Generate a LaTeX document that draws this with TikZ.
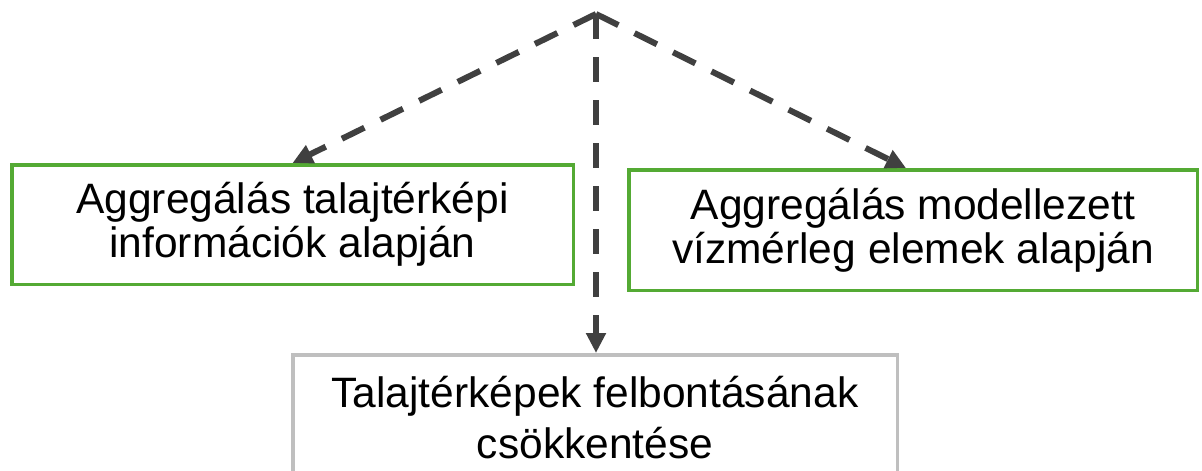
\documentclass[tikz,border=0pt]{standalone}
\usepackage{fontspec}
\setmainfont{Liberation Sans}
\usetikzlibrary{arrows.meta}

\definecolor{boxgreen}{RGB}{84,170,52}
\definecolor{boxgray}{RGB}{191,191,191}
\definecolor{linegray}{RGB}{64,64,64}

\begin{document}
\begin{tikzpicture} [x=1pt, y=-1pt, align=center,
  greenbox/.style={draw=boxgreen, line width=3.5pt, inner sep=0pt, font=\fontsize{42.5}{44}\selectfont},
  graybox/.style={draw=boxgray, line width=3.5pt, inner sep=0pt, font=\fontsize{42.5}{51}\selectfont},
  dasharrow/.style={draw=linegray, line width=6pt, dash pattern=on 25pt off 18pt, -{Triangle[length=20pt, width=19pt]}}]
\useasboundingbox (0,0) rectangle (1202,471);

\path (596,14) coordinate (top)
(292.5,224.5) node[greenbox, minimum width=561.5pt, minimum height=119.5pt] (soil) {Aggregálás talajtérképi\\információk alapján}
(913,230) node[greenbox, minimum width=568.5pt, minimum height=120.5pt] (water) {Aggregálás modellezett\\vízmérleg elemek alapján}
(595,417.5) node[graybox, minimum width=604.5pt, minimum height=125.5pt] (res) {Talajtérképek felbontásának\\csökkentése};

\draw[dasharrow] (top) to (soil.north);
\draw[dasharrow] (top) to ([xshift=-7pt]water.north);
\draw[dasharrow] (top) to ([xshift=1pt]res.north);
\end{tikzpicture}
\end{document}
